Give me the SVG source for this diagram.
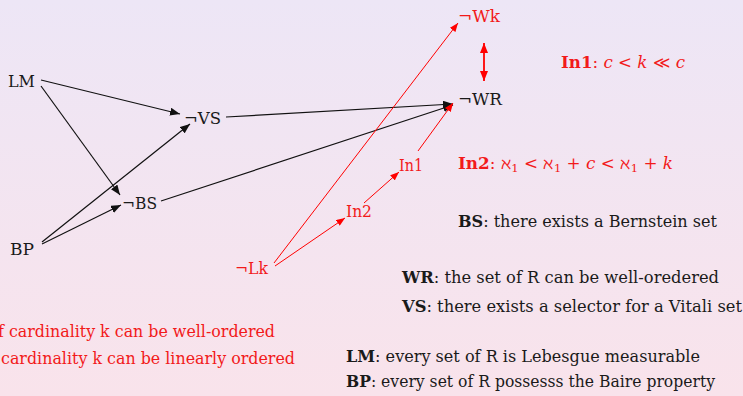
<svg xmlns="http://www.w3.org/2000/svg" width="743" height="396" viewBox="0 0 743 396">
  <defs>
    <linearGradient id="bg" x1="0" y1="0" x2="0" y2="1">
      <stop offset="0" stop-color="#ede6f6"/>
      <stop offset="1" stop-color="#f9e3eb"/>
    </linearGradient>
    <marker id="ah" viewBox="0 0 10 8" refX="10" refY="4" markerWidth="10" markerHeight="8" markerUnits="userSpaceOnUse" orient="auto">
      <path d="M0,0 L10,4 L0,8 z" fill="#111"/>
    </marker>
    <marker id="ahr" viewBox="0 0 10 8" refX="10" refY="4" markerWidth="9" markerHeight="7" markerUnits="userSpaceOnUse" orient="auto">
      <path d="M0,0 L10,4 L0,8 z" fill="#f00"/>
    </marker>
    <marker id="ahr2" viewBox="0 0 10 8" refX="10" refY="4" markerWidth="10" markerHeight="8" markerUnits="userSpaceOnUse" orient="auto-start-reverse">
      <path d="M0,0 L10,4 L0,8 z" fill="#f00"/>
    </marker>
  </defs>
  <style>
    text { font-family: "DejaVu Serif", "Liberation Serif", serif; font-size: 16px; fill: #1a1a1a; }
    .red { fill: #f21a1a; }
    .b { font-weight: bold; }
    .i { font-style: italic; }
    .blk { stroke: #111; stroke-width: 1.2; fill: none; marker-end: url(#ah); }
    .rd { stroke: #f00; stroke-width: 1; fill: none; marker-end: url(#ahr); }
    .rd2 { stroke: #f00; stroke-width: 1.8; fill: none; marker-start: url(#ahr2); marker-end: url(#ahr2); }
  </style>

  <rect width="743" height="396" fill="url(#bg)"/>

  <!-- implications between the statements -->
  <g id="connectors">
    <line class="blk" x1="41" y1="80" x2="180" y2="114"/>
    <line class="blk" x1="41" y1="86" x2="120" y2="195"/>
    <line class="blk" x1="42" y1="242" x2="190" y2="124"/>
    <line class="blk" x1="42" y1="244" x2="121" y2="205"/>
    <line class="blk" x1="226" y1="117" x2="453" y2="104"/>
    <line class="blk" x1="161" y1="201" x2="453" y2="105"/>
    <line class="rd" x1="274" y1="263" x2="458" y2="23"/>
    <line class="rd" x1="275" y1="266" x2="345" y2="218"/>
    <line class="rd" x1="364" y1="203" x2="399" y2="172"/>
    <line class="rd" x1="418" y1="151" x2="453" y2="103"/>
    <line class="rd2" x1="484" y1="43" x2="484" y2="81"/>
  </g>

  <g id="node-LM"><text x="8" y="87" textLength="27" lengthAdjust="spacingAndGlyphs">LM</text></g>
  <g id="node-BP"><text x="10" y="255" textLength="24" lengthAdjust="spacingAndGlyphs">BP</text></g>
  <g id="node-nVS"><text x="184" y="124" textLength="37" lengthAdjust="spacingAndGlyphs">¬VS</text></g>
  <g id="node-nBS"><text x="122" y="209" textLength="35" lengthAdjust="spacingAndGlyphs">¬BS</text></g>
  <g id="node-nWR"><text x="458" y="105" textLength="44" lengthAdjust="spacingAndGlyphs">¬WR</text></g>
  <g id="node-nWk"><text class="red" x="458" y="22" textLength="42" lengthAdjust="spacingAndGlyphs">¬Wk</text></g>
  <g id="node-nLk"><text class="red" x="235" y="274" textLength="33" lengthAdjust="spacingAndGlyphs">¬Lk</text></g>
  <g id="node-In1"><text class="red" x="399" y="171" textLength="24" lengthAdjust="spacingAndGlyphs">In1</text></g>
  <g id="node-In2"><text class="red" x="346" y="217" textLength="26" lengthAdjust="spacingAndGlyphs">In2</text></g>

  <!-- legend -->
  <g id="legend">
    <text class="red" x="561" y="68" textLength="124" lengthAdjust="spacingAndGlyphs"><tspan class="b">In1</tspan>: <tspan class="i">c</tspan> &lt; <tspan class="i">k</tspan> ≪ <tspan class="i">c</tspan></text>
    <text class="red" x="458" y="169" textLength="215" lengthAdjust="spacingAndGlyphs"><tspan class="b">In2</tspan>: ℵ<tspan font-size="11" dy="3">1</tspan><tspan dy="-3"> &lt; ℵ</tspan><tspan font-size="11" dy="3">1</tspan><tspan dy="-3"> + </tspan><tspan class="i">c</tspan> &lt; ℵ<tspan font-size="11" dy="3">1</tspan><tspan dy="-3"> + </tspan><tspan class="i">k</tspan></text>
    <text x="458" y="227" textLength="259" lengthAdjust="spacingAndGlyphs"><tspan class="b">BS</tspan>: there exists a Bernstein set</text>
    <text x="402" y="283" textLength="317" lengthAdjust="spacingAndGlyphs"><tspan class="b">WR</tspan>: the set of R can be well-oredered</text>
    <text x="402" y="312" textLength="340" lengthAdjust="spacingAndGlyphs"><tspan class="b">VS</tspan>: there exists a selector for a Vitali set</text>
    <text x="346" y="362" textLength="354" lengthAdjust="spacingAndGlyphs"><tspan class="b">LM</tspan>: every set of R is Lebesgue measurable</text>
    <text x="346" y="387" textLength="369" lengthAdjust="spacingAndGlyphs"><tspan class="b">BP</tspan>: every set of R possesss the Baire property</text>
    <text class="red" x="-2" y="337" textLength="277" lengthAdjust="spacingAndGlyphs">f cardinality k can be well-ordered</text>
    <text class="red" x="1" y="364" textLength="294" lengthAdjust="spacingAndGlyphs">cardinality k can be linearly ordered</text>
  </g>
</svg>
